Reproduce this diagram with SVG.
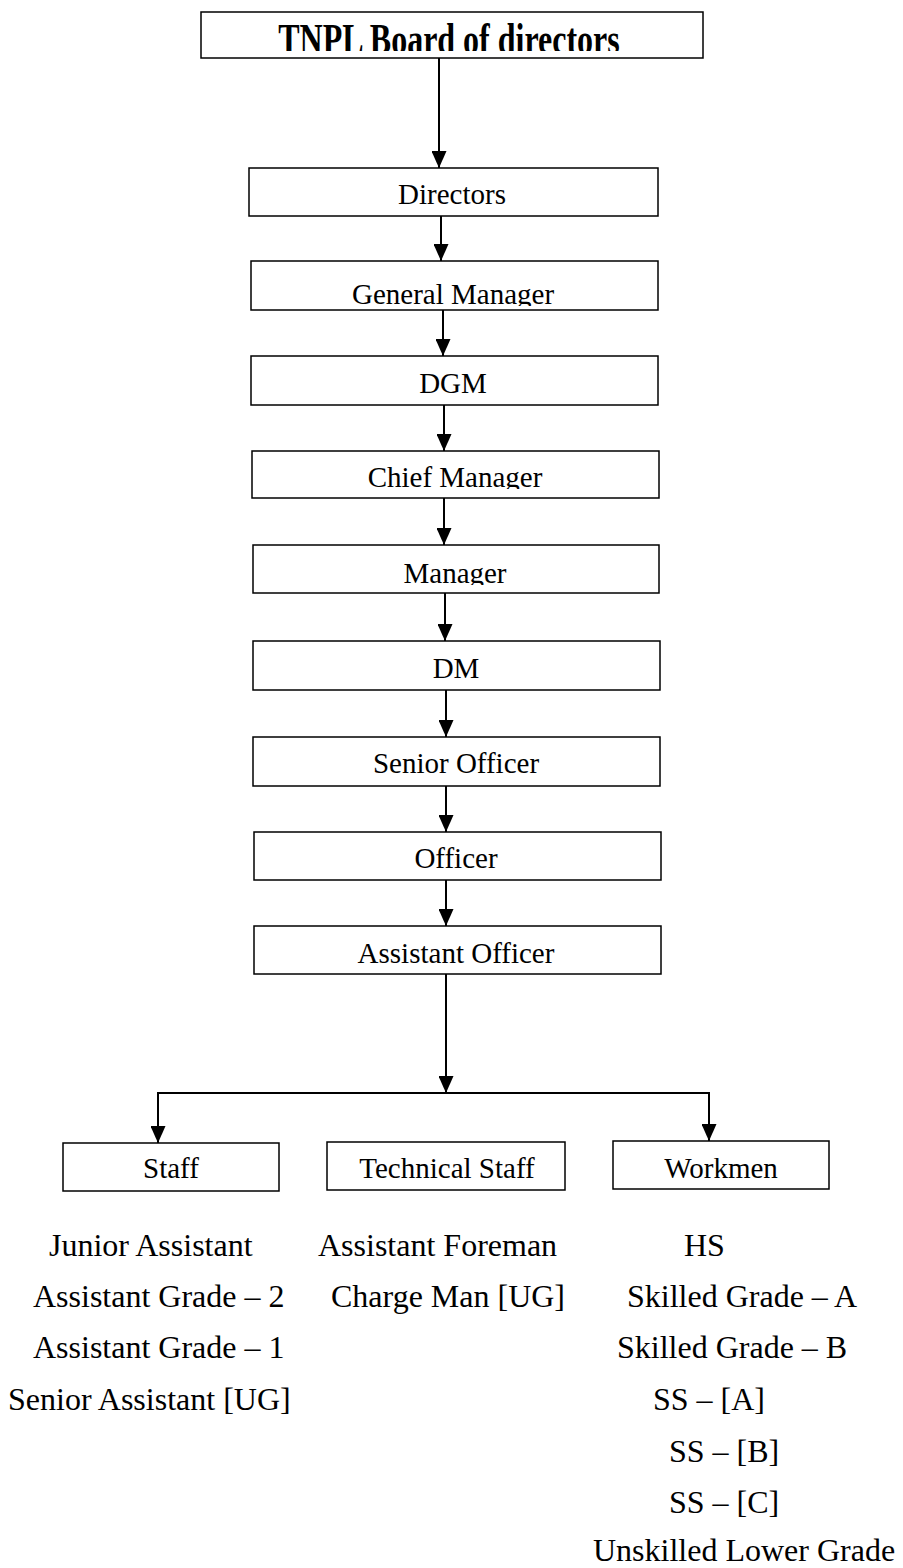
<svg xmlns="http://www.w3.org/2000/svg" width="903" height="1568" viewBox="0 0 903 1568">
<style>
.box{fill:#fff;stroke:#000;stroke-width:1.5}
.lbl{font-family:"Liberation Serif","Times New Roman",serif;font-size:29px;fill:#000;text-anchor:middle}
.ttl{font-family:"Liberation Serif","Times New Roman",serif;font-size:32px;font-weight:bold;fill:#000;text-anchor:middle}
.item{font-family:"Liberation Serif","Times New Roman",serif;font-size:32px;fill:#000}
.con{fill:none;stroke:#000;stroke-width:2}
</style>
<defs>
<marker id="ah" viewBox="0 0 17 15" refX="17" refY="7.5" markerWidth="17" markerHeight="15" markerUnits="userSpaceOnUse" orient="auto-start-reverse">
<path d="M0,0 L17,7.5 L0,15 Z" fill="#000"/>
</marker>
<clipPath id="cT"><rect x="201" y="12" width="502" height="39"/></clipPath>
<clipPath id="cGM"><rect x="251" y="261" width="407" height="45"/></clipPath>
<clipPath id="cCM"><rect x="252" y="451" width="407" height="38"/></clipPath>
<clipPath id="cM"><rect x="253" y="545" width="406" height="40"/></clipPath>
</defs>
<rect width="903" height="1568" fill="#fff"/>
<g id="connectors">
<path class="con" d="M439,58 V168" marker-end="url(#ah)"/>
<path class="con" d="M441,216 V261" marker-end="url(#ah)"/>
<path class="con" d="M443,310 V356" marker-end="url(#ah)"/>
<path class="con" d="M444,405 V451" marker-end="url(#ah)"/>
<path class="con" d="M444,498 V545" marker-end="url(#ah)"/>
<path class="con" d="M445,593 V641" marker-end="url(#ah)"/>
<path class="con" d="M446,690 V737" marker-end="url(#ah)"/>
<path class="con" d="M446,786 V832" marker-end="url(#ah)"/>
<path class="con" d="M446,880 V926" marker-end="url(#ah)"/>
<path class="con" d="M446,974 V1093" marker-end="url(#ah)"/>
<path class="con" d="M158,1143 V1093 H709 V1141" marker-start="url(#ah)" marker-end="url(#ah)"/>
</g>
<g id="n_board">
<rect class="box" x="201" y="12" width="502" height="46"/>
<g clip-path="url(#cT)">
<text class="ttl" transform="translate(449,54) scale(1,1.38)">TNPL Board of directors</text>
</g>
</g>
<g id="n_directors">
<rect class="box" x="249" y="168" width="409" height="48"/>
<text class="lbl" x="452" y="204">Directors</text>
</g>
<g id="n_gm">
<rect class="box" x="251" y="261" width="407" height="49"/>
<text class="lbl" x="453" y="304" clip-path="url(#cGM)">General Manager</text>
</g>
<g id="n_dgm">
<rect class="box" x="251" y="356" width="407" height="49"/>
<text class="lbl" x="453" y="393">DGM</text>
</g>
<g id="n_cm">
<rect class="box" x="252" y="451" width="407" height="47"/>
<text class="lbl" x="455" y="487" clip-path="url(#cCM)">Chief Manager</text>
</g>
<g id="n_manager">
<rect class="box" x="253" y="545" width="406" height="48"/>
<text class="lbl" x="455" y="583" clip-path="url(#cM)">Manager</text>
</g>
<g id="n_dm">
<rect class="box" x="253" y="641" width="407" height="49"/>
<text class="lbl" x="456" y="678">DM</text>
</g>
<g id="n_so">
<rect class="box" x="253" y="737" width="407" height="49"/>
<text class="lbl" x="456" y="773">Senior Officer</text>
</g>
<g id="n_officer">
<rect class="box" x="254" y="832" width="407" height="48"/>
<text class="lbl" x="456" y="868">Officer</text>
</g>
<g id="n_ao">
<rect class="box" x="254" y="926" width="407" height="48"/>
<text class="lbl" x="456" y="963">Assistant Officer</text>
</g>
<g id="n_staff">
<rect class="box" x="63" y="1143" width="216" height="48"/>
<text class="lbl" x="171" y="1178">Staff</text>
</g>
<g id="n_tech">
<rect class="box" x="327" y="1142" width="238" height="48"/>
<text class="lbl" x="447" y="1178">Technical Staff</text>
</g>
<g id="n_workmen">
<rect class="box" x="613" y="1141" width="216" height="48"/>
<text class="lbl" x="721" y="1178">Workmen</text>
</g>
<g id="list_staff">
<text class="item" x="49" y="1256">Junior Assistant</text>
<text class="item" x="33" y="1307">Assistant Grade – 2</text>
<text class="item" x="33" y="1358">Assistant Grade – 1</text>
<text class="item" x="8" y="1410">Senior Assistant [UG]</text>
</g>
<g id="list_tech">
<text class="item" x="318" y="1256">Assistant Foreman</text>
<text class="item" x="331" y="1307">Charge Man [UG]</text>
</g>
<g id="list_workmen">
<text class="item" x="684" y="1256">HS</text>
<text class="item" x="627" y="1307">Skilled Grade – A</text>
<text class="item" x="617" y="1358">Skilled Grade – B</text>
<text class="item" x="653" y="1410">SS – [A]</text>
<text class="item" x="669" y="1462">SS – [B]</text>
<text class="item" x="669" y="1513">SS – [C]</text>
<text class="item" x="593" y="1561">Unskilled Lower Grade</text>
</g>
</svg>
